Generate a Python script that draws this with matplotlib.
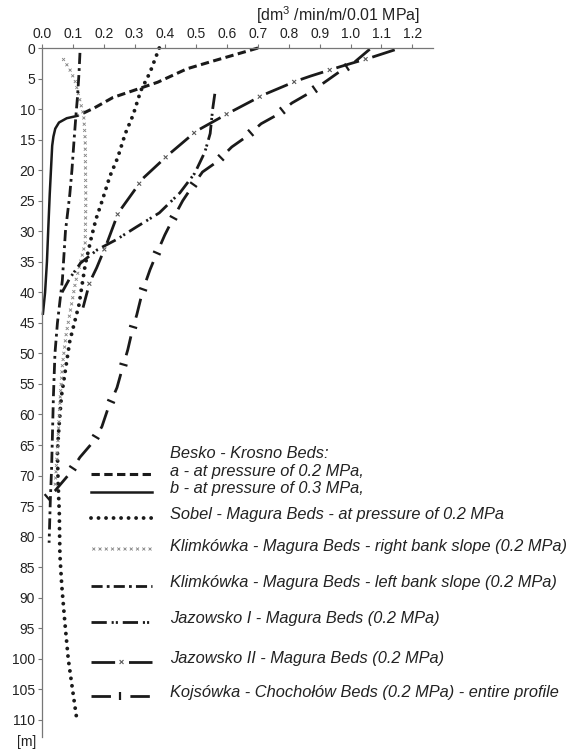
import numpy as np
import matplotlib
matplotlib.use("Agg")
import matplotlib.pyplot as plt
from matplotlib import patheffects
from matplotlib.lines import Line2D
from matplotlib.path import Path
from matplotlib.transforms import Affine2D

plt.rcParams["font.family"] = ["Liberation Sans", "DejaVu Sans"]
plt.rcParams["lines.scale_dashes"] = False
plt.rcParams["mathtext.default"] = "regular"

# permeability q [dm3/min/m/0.01 MPa] against depth d [m]
besko_a_q = [0.70, 0.55, 0.47, 0.375, 0.30, 0.23, 0.17, 0.12]
besko_a_d = [0.0, 2.2, 3.4, 5.6, 6.9, 8.1, 9.8, 11.0]

besko_b_q = [0.115, 0.08, 0.055, 0.043, 0.037, 0.033, 0.029, 0.025, 0.02, 0.016, 0.01, 0.003]
besko_b_d = [11.1, 11.5, 12.2, 13.2, 14.5, 16, 20, 24, 30, 35, 40, 43.5]

sobel_q = [0.38, 0.35, 0.32, 0.295, 0.27, 0.245, 0.22, 0.195, 0.175, 0.16, 0.14, 0.12,
           0.09, 0.075, 0.063, 0.055, 0.05, 0.052, 0.056, 0.058, 0.064, 0.074, 0.085, 0.096, 0.113]
sobel_d = [0, 4, 7, 11, 14, 18, 21, 25, 28, 31, 35.5, 42,
           48, 53, 57, 62, 66, 71, 76, 83, 88, 94, 100, 104, 110]

klim_right_q = [0.065, 0.09, 0.108, 0.125, 0.135, 0.14, 0.142, 0.14, 0.125, 0.108, 0.092,
                0.078, 0.066, 0.058, 0.052, 0.046, 0.042]
klim_right_d = [1.5, 3.5, 5.5, 9, 11, 15, 25, 32, 35, 38.5, 43, 47, 52, 58, 64, 69, 72]

klim_left_q = [0.123, 0.12, 0.115, 0.11, 0.104, 0.097, 0.09, 0.076, 0.066, 0.05, 0.042,
               0.037, 0.034, 0.031, 0.027, 0.023]
klim_left_d = [0.8, 4, 8, 11, 15, 20, 24, 30, 38, 45, 50, 57, 63, 69, 74, 81]

jaz1_q = [0.56, 0.553, 0.545, 0.528, 0.495, 0.447, 0.38, 0.306, 0.24, 0.18, 0.125, 0.09, 0.065]
jaz1_d = [7.5, 10, 14, 17, 20.5, 23.7, 27, 29.3, 31.4, 33, 35.2, 37.7, 40]

jaz2_q = [1.143, 1.07, 0.97, 0.87, 0.824, 0.716, 0.603, 0.50, 0.409, 0.328, 0.247,
          0.21, 0.177, 0.155, 0.133]
jaz2_d = [0.3, 1.5, 3.0, 4.6, 5.4, 7.7, 10.7, 13.6, 17.5, 21.3, 27, 32, 36, 38.3, 42.5]

kojs_q = [1.062, 1.013, 0.958, 0.916, 0.865, 0.81, 0.76, 0.71, 0.66, 0.615, 0.565, 0.52,
          0.485, 0.456, 0.424, 0.398, 0.372, 0.35, 0.327, 0.307, 0.295, 0.278, 0.259,
          0.243, 0.214, 0.194, 0.162, 0.123, 0.084, 0.042, 0.0]
kojs_d = [0.2, 2.3, 4.1, 5.6, 7.4, 9, 11, 12.4, 14.6, 16.2, 18.7, 20.3, 22.8, 25, 28,
          30.6, 33.6, 36.3, 39.6, 43.7, 45.7, 49.4, 52.7, 55.6, 59, 62, 64.7, 67, 70, 72.5, 74.3]

x_ticks = [0.0, 0.1, 0.2, 0.3, 0.4, 0.5, 0.6, 0.7, 0.8, 0.9, 1.0, 1.1, 1.2]
y_ticks = list(range(0, 111, 5))

INK = "#1a1a1a"
W, H = 579, 751


class MarksAlong(patheffects.AbstractPathEffect):
    """Small 'x' marks or cross ticks put along a line every `spacing` points."""

    def __init__(self, first, spacing, size, kind="x", color=INK, lw=1.0):
        super().__init__()
        self.first, self.spacing, self.size = first, spacing, size
        self.kind, self.color, self.lw = kind, color, lw

    def draw_path(self, renderer, gc, tpath, affine, rgbFace=None):
        pts = affine.transform(tpath.vertices)
        seg = np.diff(pts, axis=0)
        ds = np.hypot(seg[:, 0], seg[:, 1])
        keep = ds > 0
        seg, ds, starts = seg[keep], ds[keep], pts[:-1][keep]
        if len(ds) == 0:
            return
        s = np.concatenate([[0.0], np.cumsum(ds)])
        px = renderer.points_to_pixels(1.0)
        gc0 = renderer.new_gc()
        gc0.copy_properties(gc)
        gc0.set_foreground(self.color)
        gc0.set_linewidth(self.lw)
        gc0.set_dashes(0, None)
        gc0.set_capstyle("butt")
        h = self.size * px / 2
        for p in np.arange(self.first * px, s[-1], self.spacing * px):
            i = min(np.searchsorted(s, p, side="right") - 1, len(ds) - 1)
            u = seg[i] / ds[i]
            c = starts[i] + (p - s[i]) * u
            if self.kind == "x":
                arms = [np.array([h, h]) * 0.7, np.array([h, -h]) * 0.7]
            else:
                arms = [np.array([-u[1], u[0]]) * h]
            for a in arms:
                renderer.draw_path(gc0, Path([c - a, c + a]), Affine2D())
        gc0.restore()


styles = {
    "besko_a": dict(ls=(0, (6, 3.2)), lw=2.2),
    "besko_b": dict(ls="-", lw=1.8),
    "sobel": dict(ls=(0, (0.01, 5.4)), lw=2.8, dash_capstyle="round"),
    "klim_right": dict(ls="-", lw=1.0, path_effects=[
        MarksAlong(2, 4.5, 3.0, "x", "#808080", 0.6)]),
    "klim_left": dict(ls=(0, (8, 3, 2, 3)), lw=2.0),
    "jaz1": dict(ls=(0, (11, 3.5, 1.5, 1.5, 1.5, 3.5)), lw=2.0),
    "jaz2": dict(ls=(0, (17, 10)), lw=2.0, path_effects=[
        patheffects.Normal(), MarksAlong(22, 27, 4.0, "x", "#555555", 0.8)]),
    "kojs": dict(ls=(0, (14, 14)), lw=2.0, path_effects=[
        patheffects.Normal(), MarksAlong(21, 28, 6.0, "tick", INK, 1.6)]),
}

fig = plt.figure(figsize=(W / 100, H / 100), dpi=100)
ax = fig.add_axes([42 / W, 1 - 737 / H, (433 - 42) / W, (737 - 48) / H])

series = [
    ("besko_a", besko_a_q, besko_a_d),
    ("besko_b", besko_b_q, besko_b_d),
    ("sobel", sobel_q, sobel_d),
    ("klim_right", klim_right_q, klim_right_d),
    ("klim_left", klim_left_q, klim_left_d),
    ("jaz1", jaz1_q, jaz1_d),
    ("jaz2", jaz2_q, jaz2_d),
    ("kojs", kojs_q, kojs_d),
]
for key, q, d in series:
    ax.plot(q, d, color=INK, clip_on=False, **styles[key])

ax.set_xlim(0, 1.267)
ax.set_ylim(112.8, 0)
ax.xaxis.tick_top()
ax.set_xticks(x_ticks)
ax.set_xticklabels([f"{v:.1f}" for v in x_ticks])
ax.set_yticks(y_ticks)
for side in ("right", "bottom"):
    ax.spines[side].set_visible(False)
for side in ("top", "left"):
    ax.spines[side].set_color("#777777")
    ax.spines[side].set_linewidth(0.9)
ax.tick_params(direction="out", length=3, width=0.8, color="#777777",
               labelsize=10, labelcolor="#222222", pad=2)

fig.text(338 / W, 1 - 15 / H, "[dm$^3$ /min/m/0.01 MPa]", ha="center", va="center",
         fontsize=11.5, color="#222222")
fig.text(27 / W, 1 - 742 / H, "[m]", ha="center", va="center", fontsize=10, color="#222222")

# legend, drawn by hand
legend_rows = [
    (None, 453, "Besko - Krosno Beds:"),
    ("besko_a", 471, "a - at pressure of 0.2 MPa,"),
    ("besko_b", 489, "b - at pressure of 0.3 MPa,"),
    ("sobel", 515, "Sobel - Magura Beds - at pressure of 0.2 MPa"),
    ("klim_right", 546, "Klimkówka - Magura Beds - right bank slope (0.2 MPa)"),
    ("klim_left", 583, "Klimkówka - Magura Beds - left bank slope (0.2 MPa)"),
    ("jaz1", 619, "Jazowsko I - Magura Beds (0.2 MPa)"),
    ("jaz2", 659, "Jazowsko II - Magura Beds (0.2 MPa)"),
    ("kojs", 693, "Kojsówka - Chochołów Beds (0.2 MPa) - entire profile"),
]
for key, y, label in legend_rows:
    fig.text(170 / W, 1 - y / H, label, ha="left", va="center", fontsize=11.8,
             style="italic", color="#222222")
    if key is None:
        continue
    ys = 1 - (y + 3) / H
    fig.add_artist(Line2D([91 / W, 152 / W], [ys, ys], transform=fig.transFigure,
                          color=INK, **styles[key]))

fig.savefig("out.png", dpi=100)
